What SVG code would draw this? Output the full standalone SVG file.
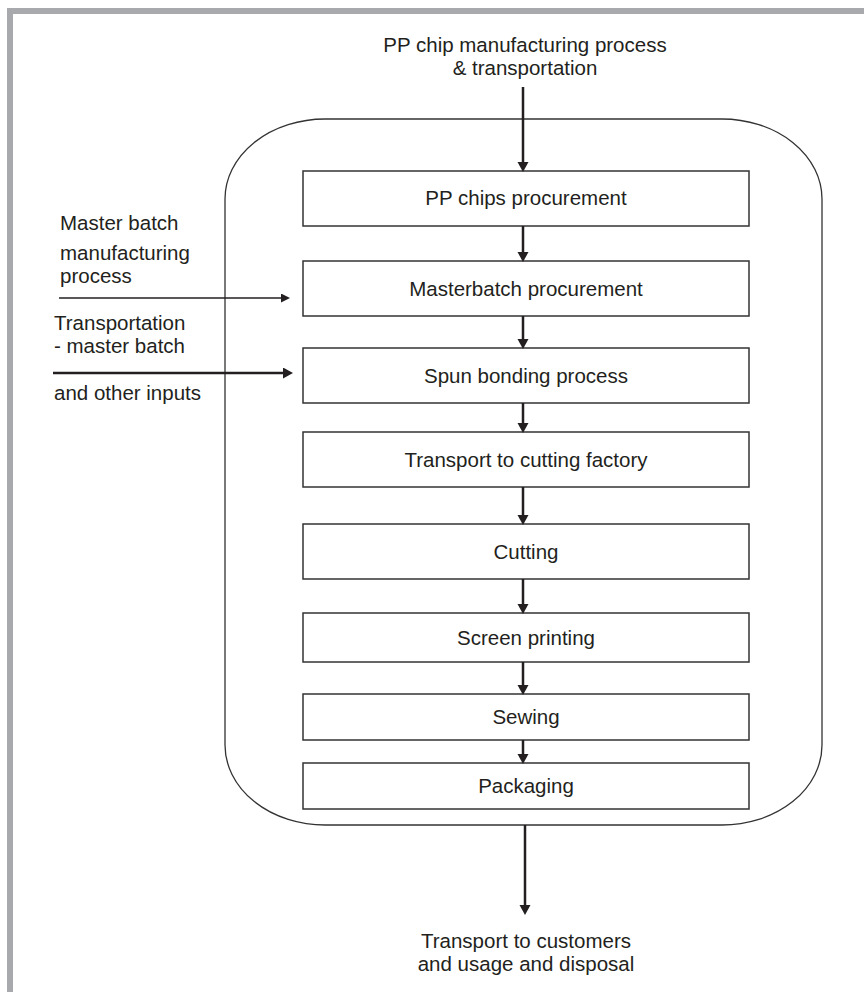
<svg xmlns="http://www.w3.org/2000/svg" width="864" height="992" viewBox="0 0 864 992">
<style>
.t{font-family:"Liberation Sans",Arial,sans-serif;font-size:20.5px;fill:#231f20}
.c{text-anchor:middle}
.box{fill:#fff;stroke:#333;stroke-width:1.5}
.ar{stroke:#231f20;stroke-width:2.5;fill:none}
.ar2{stroke:#231f20;stroke-width:1.6;fill:none}
</style>
<defs>
<marker id="ah" markerUnits="userSpaceOnUse" markerWidth="10" markerHeight="12" refX="6" refY="5.5" orient="auto">
<path d="M0,0 L10,5.5 L0,11 z" fill="#231f20"/>
</marker>
<marker id="ah2" markerUnits="userSpaceOnUse" markerWidth="9" markerHeight="10" refX="6" refY="4.5" orient="auto">
<path d="M0,0 L9,4.5 L0,9 z" fill="#231f20"/>
</marker>
</defs>
<rect x="0" y="0" width="864" height="992" fill="#fff"/>
<g id="frame">
<rect x="7" y="8" width="857" height="6" fill="#a8a9ad"/>
<rect x="7" y="8" width="6" height="984" fill="#a8a9ad"/>
</g>
<g id="container">
<rect x="225" y="119" width="597" height="706" rx="100" ry="80" fill="none" stroke="#333" stroke-width="1.3"/>
</g>
<g id="input-top">
<text class="t c" x="525" y="52">PP chip manufacturing process</text>
<text class="t c" x="525" y="75">&amp; transportation</text>
</g>
<g id="input-masterbatch">
<text class="t" x="60" y="230">Master batch</text>
<text class="t" x="60" y="260">manufacturing</text>
<text class="t" x="60" y="283">process</text>
</g>
<g id="input-transport">
<text class="t" x="54" y="330">Transportation</text>
<text class="t" x="54" y="353"> - master batch</text>
<text class="t" x="54" y="400">and other inputs</text>
</g>
<g id="n1"><rect class="box" x="303" y="171" width="446" height="55"/><text class="t c" x="526" y="205">PP chips procurement</text></g>
<g id="n2"><rect class="box" x="303" y="261" width="446" height="55"/><text class="t c" x="526" y="296">Masterbatch procurement</text></g>
<g id="n3"><rect class="box" x="303" y="348" width="446" height="55"/><text class="t c" x="526" y="383">Spun bonding process</text></g>
<g id="n4"><rect class="box" x="303" y="432" width="446" height="55"/><text class="t c" x="526" y="467">Transport to cutting factory</text></g>
<g id="n5"><rect class="box" x="303" y="524" width="446" height="55"/><text class="t c" x="526" y="559">Cutting</text></g>
<g id="n6"><rect class="box" x="303" y="613" width="446" height="49"/><text class="t c" x="526" y="645">Screen printing</text></g>
<g id="n7"><rect class="box" x="303" y="694" width="446" height="46"/><text class="t c" x="526" y="724">Sewing</text></g>
<g id="n8"><rect class="box" x="303" y="763" width="446" height="46"/><text class="t c" x="526" y="793">Packaging</text></g>
<g id="output">
<text class="t c" x="526" y="948">Transport to customers</text>
<text class="t c" x="526" y="971">and usage and disposal</text>
</g>
<g id="connectors">
<line class="ar" x1="523" y1="87" x2="523" y2="168" marker-end="url(#ah)"/>
<line class="ar" x1="523" y1="226" x2="523" y2="258" marker-end="url(#ah)"/>
<line class="ar" x1="523" y1="316" x2="523" y2="345" marker-end="url(#ah)"/>
<line class="ar" x1="523" y1="403" x2="523" y2="429" marker-end="url(#ah)"/>
<line class="ar" x1="523" y1="487" x2="523" y2="521" marker-end="url(#ah)"/>
<line class="ar" x1="523" y1="579" x2="523" y2="610" marker-end="url(#ah)"/>
<line class="ar" x1="523" y1="662" x2="523" y2="691" marker-end="url(#ah)"/>
<line class="ar" x1="523" y1="740" x2="523" y2="760" marker-end="url(#ah)"/>
<line class="ar" x1="525" y1="825" x2="525" y2="911" marker-end="url(#ah)"/>
<line class="ar2" x1="59" y1="298" x2="287" y2="298" marker-end="url(#ah2)"/>
<line class="ar" x1="53" y1="373" x2="289" y2="373" marker-end="url(#ah)"/>
</g>
</svg>
